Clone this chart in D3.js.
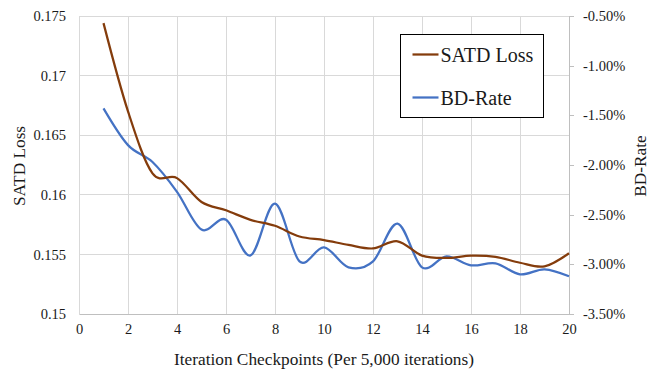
<!DOCTYPE html>
<html><head><meta charset="utf-8">
<script src="https://cdn.jsdelivr.net/npm/d3@7"></script>
<style>body{margin:0;background:#fff}text{font-family:"Liberation Serif","Times New Roman",serif;fill:#1a1a1a}</style>
</head><body><svg id="c" width="652" height="372"></svg>
<script>
const checkpoints = [1,2,3,4,5,6,7,8,9,10,11,12,13,14,15,16,17,18,19,20];
const satdLoss = [0.1744,0.1670,0.1618,0.1614,0.1594,0.1587,0.1579,0.1574,0.1565,0.1562,0.1558,0.1555,0.1561,0.1549,0.1547,0.1549,0.1548,0.1543,0.1540,0.1551];
const bdRate = [-1.43,-1.80,-1.97,-2.27,-2.65,-2.55,-2.91,-2.39,-2.97,-2.83,-3.03,-2.97,-2.59,-3.03,-2.92,-3.01,-2.99,-3.10,-3.05,-3.12];
const xTicks = [0,2,4,6,8,10,12,14,16,18,20];
const leftTicks = [0.15,0.155,0.16,0.165,0.17,0.175];
const rightTicks = [-3.5,-3.0,-2.5,-2.0,-1.5,-1.0,-0.5];
const seriesNames = ["SATD Loss","BD-Rate"];

const svg = d3.select("#c");
const L=79, R=569, T=16, B=314;
const x = d3.scaleLinear().domain([0,20]).range([L,R]);
const yL = d3.scaleLinear().domain([0.15,0.175]).range([B,T]);
const yR = d3.scaleLinear().domain([-3.5,-0.5]).range([B,T]);
const TF = "Liberation Serif";
const loc = d3.formatLocale({decimal:".",thousands:",",grouping:[3],currency:["",""],minus:"-"});

// gridlines
svg.append("g").selectAll("line").data(leftTicks).join("line")
  .attr("x1",L).attr("x2",R).attr("y1",d=>yL(d)).attr("y2",d=>yL(d))
  .attr("stroke","#d9d9d9").attr("stroke-width",1).attr("shape-rendering","crispEdges");
svg.append("g").selectAll("line").data(xTicks).join("line")
  .attr("x1",d=>x(d)).attr("x2",d=>x(d)).attr("y1",T).attr("y2",B)
  .attr("stroke","#d9d9d9").attr("stroke-width",1).attr("shape-rendering","crispEdges");

// bottom axis
const gx = svg.append("g").attr("transform",`translate(0,${B})`)
  .call(d3.axisBottom(x).tickValues(xTicks).tickSize(0).tickPadding(10).tickFormat(loc.format("d")));
gx.select(".domain").attr("stroke","#bfbfbf").attr("shape-rendering","crispEdges");
gx.selectAll("text").attr("font-size",14.5).attr("font-family",TF).attr("fill","#1a1a1a");

// left axis
const gl = svg.append("g").attr("transform",`translate(${L},0)`)
  .call(d3.axisLeft(yL).tickValues(leftTicks).tickSize(0).tickPadding(13).tickFormat(d=>String(+d.toFixed(3))));
gl.select(".domain").remove();
gl.selectAll("text").attr("font-size",14.5).attr("font-family",TF).attr("fill","#1a1a1a");

// right axis
const gr = svg.append("g").attr("transform",`translate(${R},0)`)
  .call(d3.axisRight(yR).tickValues(rightTicks).tickSize(5).tickPadding(9).tickFormat(d=>loc.format(".2f")(d)+"%"));
gr.select(".domain").attr("stroke","#bfbfbf").attr("shape-rendering","crispEdges");
gr.selectAll("line").attr("stroke","#bfbfbf").attr("shape-rendering","crispEdges");
gr.selectAll("text").attr("font-size",14.5).attr("font-family",TF).attr("fill","#1a1a1a");

// titles
svg.append("text").attr("x",(L+R)/2).attr("y",365).attr("text-anchor","middle").attr("font-size",17.3).text("Iteration Checkpoints (Per 5,000 iterations)");
svg.append("text").attr("transform",`translate(25,166) rotate(-90)`).attr("text-anchor","middle").attr("font-size",17.3).text("SATD Loss");
svg.append("text").attr("transform",`translate(646,166) rotate(-90)`).attr("text-anchor","middle").attr("font-size",17.3).text("BD-Rate");

// lines
const curve = d3.curveCardinal.tension(0);
const lineL = d3.line().x((d,i)=>x(checkpoints[i])).y(d=>yL(d)).curve(curve);
const lineR = d3.line().x((d,i)=>x(checkpoints[i])).y(d=>yR(d)).curve(curve);
const colors = ["#843c0c","#4472c4"];
svg.append("path").attr("d",lineR(bdRate)).attr("fill","none").attr("stroke",colors[1]).attr("stroke-width",2.25);
svg.append("path").attr("d",lineL(satdLoss)).attr("fill","none").attr("stroke",colors[0]).attr("stroke-width",2.25);

// legend
const lg = svg.append("g");
lg.append("rect").attr("x",400.5).attr("y",34.5).attr("width",143).attr("height",83).attr("fill","#fff").attr("stroke","#000").attr("stroke-width",1);
seriesNames.forEach((n,i)=>{
  const yy = 54.5 + i*43;
  lg.append("line").attr("x1",412.5).attr("x2",438.5).attr("y1",yy).attr("y2",yy).attr("stroke",colors[i]).attr("stroke-width",2.25);
  lg.append("text").attr("x",440.5).attr("y",yy+7).attr("font-size",20).text(n);
});
</script></body></html>
